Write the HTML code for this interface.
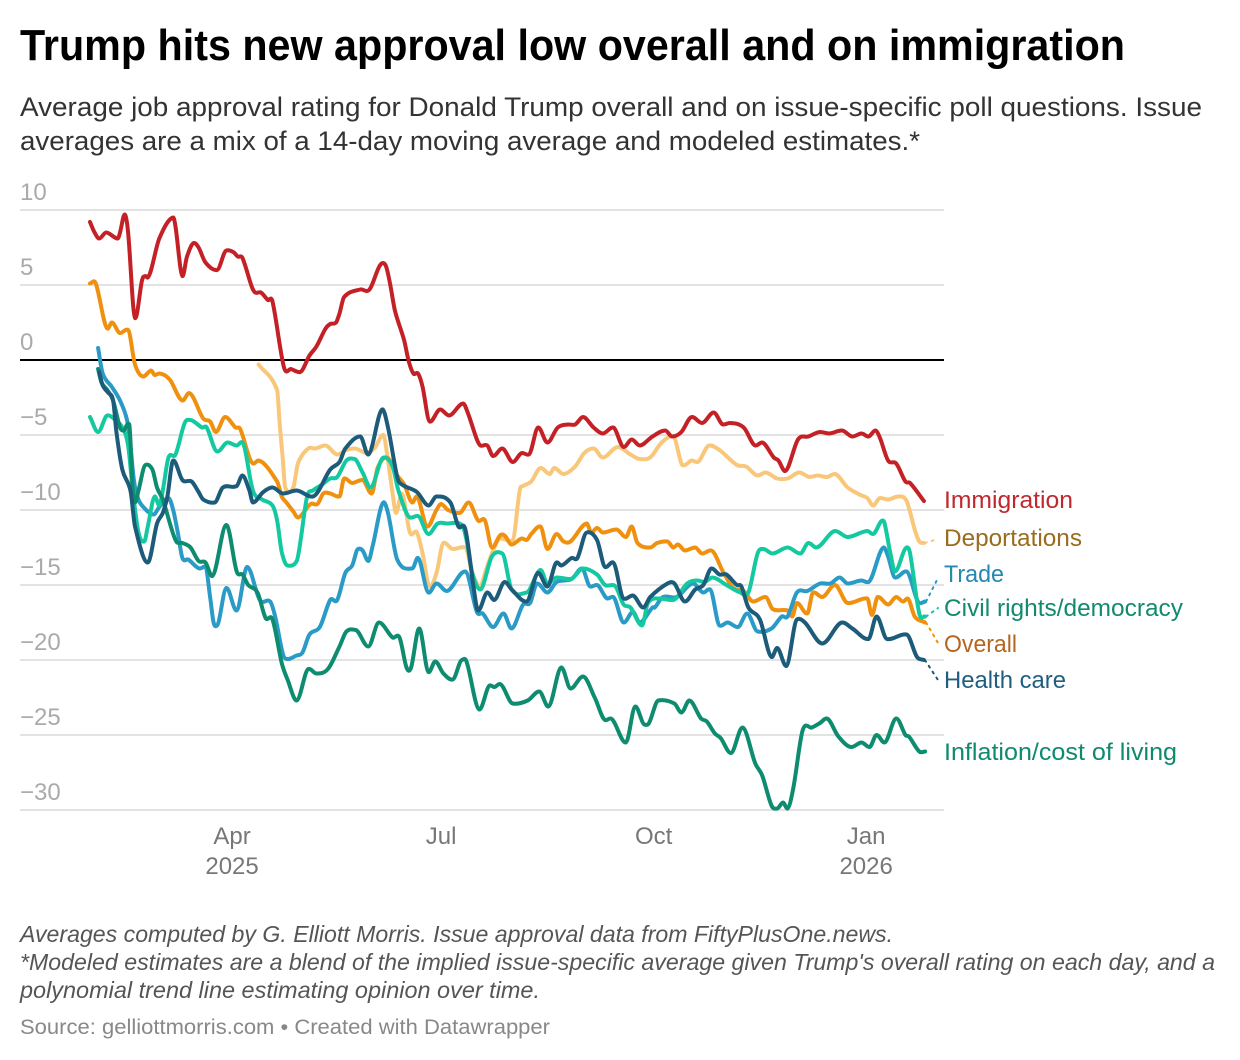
<!DOCTYPE html>
<html lang="en">
<head>
<meta charset="utf-8">
<title>Trump hits new approval low overall and on immigration</title>
<style>
html,body{margin:0;padding:0;background:#fff;}
svg{display:block;font-family:"Liberation Sans",sans-serif;}
</style>
</head>
<body>
<svg id="chart" width="1240" height="1060" viewBox="0 0 1240 1060" xmlns="http://www.w3.org/2000/svg">
  <rect x="0" y="0" width="1240" height="1060" fill="#fff"/>
  <text x="20" y="60" font-size="44" font-weight="700" fill="#000" textLength="1105" lengthAdjust="spacingAndGlyphs">Trump hits new approval low overall and on immigration</text>
  <text x="20" y="116" font-size="26.5" fill="#333" textLength="1182" lengthAdjust="spacingAndGlyphs">Average job approval rating for Donald Trump overall and on issue-specific poll questions. Issue</text>
  <text x="20" y="150" font-size="26.5" fill="#333" textLength="900" lengthAdjust="spacingAndGlyphs">averages are a mix of a 14-day moving average and modeled estimates.*</text>
  <g id="grid"></g>
  <g id="yAxis"></g>
  <g id="xAxis"></g>
  <g id="connectors"></g>
  <g id="lines"></g>
  <g id="labels">
    <text id="lab-immigration" x="944" y="508" font-size="24" fill="#c0282d" textLength="129" lengthAdjust="spacingAndGlyphs">Immigration</text>
    <text id="lab-deportations" x="944" y="546" font-size="24" fill="#9a6c1e" textLength="138" lengthAdjust="spacingAndGlyphs">Deportations</text>
    <text id="lab-trade" x="944" y="582" font-size="24" fill="#2488b0" textLength="60" lengthAdjust="spacingAndGlyphs">Trade</text>
    <text id="lab-civil" x="944" y="616" font-size="24" fill="#118a6d" textLength="239" lengthAdjust="spacingAndGlyphs">Civil rights/democracy</text>
    <text id="lab-overall" x="944" y="652" font-size="24" fill="#b5651d" textLength="73" lengthAdjust="spacingAndGlyphs">Overall</text>
    <text id="lab-health" x="944" y="688" font-size="24" fill="#1f5e80" textLength="122" lengthAdjust="spacingAndGlyphs">Health care</text>
    <text id="lab-inflation" x="944" y="760" font-size="24" fill="#0e8a6e" textLength="233" lengthAdjust="spacingAndGlyphs">Inflation/cost of living</text>
  </g>
  <text x="20" y="942" font-size="23" font-style="italic" fill="#555" textLength="873" lengthAdjust="spacingAndGlyphs">Averages computed by G. Elliott Morris. Issue approval data from FiftyPlusOne.news.</text>
  <text x="20" y="970" font-size="23" font-style="italic" fill="#555" textLength="1195" lengthAdjust="spacingAndGlyphs">*Modeled estimates are a blend of the implied issue-specific average given Trump's overall rating on each day, and a</text>
  <text x="20" y="998" font-size="23" font-style="italic" fill="#555" textLength="520" lengthAdjust="spacingAndGlyphs">polynomial trend line estimating opinion over time.</text>
  <text x="20" y="1034" font-size="21" fill="#888" textLength="530" lengthAdjust="spacingAndGlyphs">Source: gelliottmorris.com • Created with Datawrapper</text>
</svg>
<script>
const yTicks = [10, 5, 0, -5, -10, -15, -20, -25, -30];
const xTickLabels = ["Apr", "Jul", "Oct", "Jan"];
const xTickYears = ["2025", "", "", "2026"];
const xTickDays = [61.5, 152, 244, 336];

const immigrationDays = [0,2,4,7,12,13,15,16.5,19.5,22.5,24,25,30,36,37,40,42,45,47,50,55,59,62,64,66,70,71.5,74,77,79,84,87,91,95,98,102,104,106.5,108,110,117,121,125.5,128,130,132,136,138,140,142,144,147,151.5,155.5,161.5,163.5,167.5,169,172,174.5,178.5,183,187,190,194,198,202.5,207,210,213.5,218,222,226.5,231,234.5,238,243.5,249,252,256,260.5,265,270,274,277,283,288,291,296,298,301,306.5,311,316,320,325.5,330,334,337,340,342,345.5,349,353,355,361];
const immigrationValues = [9.2,8.5,8.1,8.5,8.1,8.5,9.7,8.5,2.8,5.3,5.6,5.5,8.1,9.5,8.9,5.6,6.9,7.8,7.5,6.5,6,7.3,7.2,6.9,6.8,4.9,4.5,4.5,4,3.9,-0.5,-0.6,-0.8,0.3,0.9,2.1,2.4,2.5,3.1,4.2,4.7,4.7,6.3,6.3,5,3.3,1.3,-0.1,-0.9,-0.9,-1.8,-4.1,-3.3,-3.7,-2.9,-3.5,-5.3,-5.7,-5.7,-6.4,-5.9,-6.8,-6.2,-6.3,-4.5,-5.5,-4.5,-4.3,-4.3,-3.8,-4.5,-4.9,-4.5,-5.8,-5.3,-5.7,-5.1,-4.7,-5.1,-4.8,-3.8,-4.2,-3.5,-4.3,-4.2,-4.5,-5.7,-5.5,-6.5,-6.7,-7.4,-5.3,-5.1,-4.8,-4.9,-4.7,-5.1,-4.9,-5.1,-4.7,-5.2,-6.7,-6.9,-8.1,-8.2,-9.4];

const overallDays = [0,2.5,7.5,9.5,13,16.5,19.5,23,26.5,28,30,34.5,40,43,49,52,54.5,58.5,63,65,70.5,73,81,83,85,88,90,95.5,98.5,101,104,108,110,113.5,118,122,124.5,128.5,133,136,139.5,141.5,146,150,152,155,160,164,168,171,174,177.5,179.5,182.5,187,189,191,195,198,202,205,208,215,217,219.5,222,228,232,234.5,237,242.5,245.5,250,252.5,254.5,257.5,262,265,269,274,278.5,283,287,292.5,295.5,302,304,306,310.5,313,317,322.5,328,336.5,338.5,341,345.5,349,352,354,357,361.5];
const overallValues = [5.1,5.1,2.1,2.5,1.8,2,-0.3,-1.1,-0.7,-1,-0.9,-1.3,-2.7,-2.2,-3.9,-4.1,-4.8,-3.8,-4.5,-4.6,-6.9,-6.7,-8.1,-9.1,-9.5,-10.1,-10.5,-9.6,-9.6,-8.9,-8.9,-9.1,-7.9,-8.2,-8,-8.9,-7.2,-6.5,-7.7,-8.3,-9.5,-9.1,-11.1,-10,-9.6,-10,-10.2,-9.5,-10.7,-10.7,-12.5,-11.7,-11.7,-12.3,-11.9,-12,-11.6,-11.1,-12.6,-11.6,-12.1,-12.1,-10.9,-11.5,-11.2,-11.5,-11.3,-11.8,-11.1,-12.2,-12.5,-12.2,-12.1,-12.5,-12.3,-12.7,-12.5,-12.9,-12.7,-14.1,-15.2,-15.4,-16.1,-15.8,-16.6,-16.7,-17.1,-16.2,-16.9,-15.5,-15.8,-15,-16.2,-15.9,-17,-15.8,-16.3,-15.8,-16.1,-15.9,-17.1,-17.5];

const deportationsDays = [73,81,82,83.5,84.5,88,90,94.5,97.5,102,107,111,114.5,120,123.5,127,129,131,132.5,135,138.5,141.5,144,147,150,153,157,162.5,165.5,169,171,174.5,177.5,183,186,187.5,191,195,199,201,205,210,214,218,222,228.5,234,238,242.5,247.5,252.5,256,257.5,260.5,263,268,272.5,280,284,289,292.5,297.5,302,307,311.5,315,319,322.5,328,333.5,336.5,339,342,345.5,350,353.5,357,359,361];
const deportationsValues = [-0.3,-2,-4,-6.7,-8.5,-8.5,-6.9,-5.9,-5.9,-5.7,-6.3,-6,-5.9,-6.2,-5.8,-5,-6.7,-8.9,-10.2,-8.9,-11.5,-11.5,-12.9,-15.1,-14.2,-12.2,-12.6,-12.5,-14.2,-15.1,-14.2,-12.7,-11.9,-12,-8.7,-8.4,-8.1,-7.2,-7.6,-7.2,-7.6,-7.1,-6.2,-5.9,-6.5,-5.8,-6.3,-6.6,-6.5,-5.5,-5.1,-6.9,-7,-6.7,-6.8,-5.7,-6,-7,-7.1,-7.7,-7.5,-7.9,-7.9,-7.5,-7.8,-7.7,-7.8,-7.6,-8.5,-9,-9.2,-9.7,-9.2,-9.3,-9.1,-9.4,-11.3,-12.1,-12.2];

const tradeDays = [3.5,5.5,9.5,13,16,17.5,19,20.5,22.5,27.5,30,34,36,38,40,42.5,47.5,50,52,53.5,55,59,63.5,68,73.5,78,80,84.5,89.5,92,95,99.5,104,107,110.5,113.5,116,118,120.5,122.5,127,129,133,139.5,142,146.5,150,154.5,162.5,167.5,170,174.5,179,182.5,187.5,190.5,193.5,198,202,208.5,213,216.5,219.5,224,226.5,231,235,238,243.5,244.5,248,254,261,265.5,268.5,272.5,276,280.5,284.5,289,295,299.5,302,306,310.5,316,320.5,324.5,328,334,337,343.5,345.5,348.5,353.5,359,361.5];
const tradeValues = [0.8,-0.9,-1.8,-2.7,-4,-5.7,-8,-9.1,-9.7,-10.3,-9.8,-9.2,-10,-11.5,-13.2,-13.3,-13.9,-13.8,-15.8,-17.5,-17.7,-15.2,-16.7,-13.8,-16,-16.1,-17,-19.9,-19.7,-19.5,-18.3,-17.8,-16,-16,-14.2,-13.7,-12.6,-12.7,-13.4,-12.3,-9.5,-10.2,-13.3,-13.9,-13.2,-15.5,-14.9,-15.4,-14.1,-16.8,-16.9,-17.8,-16.9,-17.9,-16.3,-16.2,-14.9,-15.5,-14.8,-14.6,-13.9,-15.1,-15,-15.9,-15.8,-17.5,-16.8,-17.5,-16.5,-16.5,-15.8,-15.8,-14.9,-15.5,-15.3,-17.7,-17.5,-17.8,-16.9,-18.1,-17.9,-17.1,-17.1,-15.5,-15.4,-14.9,-14.9,-14.5,-14.9,-14.7,-14.8,-12.5,-13.1,-14.5,-14.1,-16.2,-16.1];

const civilDays = [0,3.5,7.5,11,14,16.5,18.5,21,23.5,25,28,30,31.5,34,37,41,43.5,48.5,50.5,55,59.5,63.5,66,70.5,74.5,79,81,83,85.5,89.5,91,94,96.5,100.5,104,107,111,114.5,118,121.5,127,131,133.5,138.5,142,146.5,150.5,154.5,161,163,165.5,169,174,178.5,182.5,189,195,198,202,208,213.5,219.5,223,227.5,231,234,239,241.5,246.5,252.5,258.5,263,266,269.5,275.5,281.5,285,289,291.5,295.5,302,307.5,311,314.5,322.5,328,336.5,339,343,344,346.5,348.5,353.5,355,359,361.5];
const civilValues = [-3.8,-4.8,-3.7,-4,-4.5,-5.7,-8.7,-11.5,-12.1,-11.1,-9.1,-9.7,-8.7,-6.5,-6.3,-4.2,-4,-4.5,-4.5,-6.1,-5.5,-5.7,-5.5,-8.7,-9.3,-9.7,-10.7,-12.8,-13.7,-13.4,-12.2,-9.1,-8.7,-8.3,-7.9,-7.8,-6.7,-6.6,-7.5,-8.5,-6.5,-7.1,-8.7,-10.5,-10.4,-11.6,-10.9,-10.9,-11,-12,-14.2,-15.3,-13.1,-12.9,-15.3,-15.5,-14,-14.9,-14.5,-14.6,-13.9,-14.3,-15,-15.1,-16.3,-16.5,-17.7,-16.2,-15.9,-16,-14.9,-14.7,-14.8,-14.5,-15,-15.5,-15.5,-12.9,-12.6,-12.9,-12.5,-12.9,-12.2,-12.5,-11.4,-11.8,-11.4,-11.6,-10.7,-10.9,-12.9,-14.1,-12.5,-12.9,-16.9,-17.1];

const healthDays = [4,5.5,8,10,11.5,14,17.5,19.5,25,29,31.5,33.5,36,40,44,47,49,54,57.5,63.5,66,69,70.5,75,79,83.5,89.5,96.5,104,108,110.5,117,120.5,126.5,129,133,135,141.5,146.5,150,156,159.5,162.5,166,168,172,175,179.5,182.5,189,194,198,202,204,208.5,211,215,219.5,223,226.5,231,235,239.5,242.5,250,253,257.5,262,265.5,269,272.5,275.5,280,282,285,290,295,297.5,301.5,306,309.5,317,325.5,330,337,340.5,345,353.5,358,361];
const healthValues = [-0.8,-1.7,-2.2,-2.7,-4.9,-7.3,-8.7,-11.1,-13.5,-10.9,-10.2,-9.1,-6.7,-8,-8.1,-8.8,-9.3,-9.5,-8.5,-8.4,-7.7,-8.7,-9.5,-8.8,-8.5,-8.9,-8.7,-9.1,-7.3,-6.8,-5.9,-5.1,-6.3,-3.3,-4.5,-7.8,-8.3,-8.8,-9.7,-9.1,-9.5,-11.1,-11.3,-15.1,-16.7,-15.5,-16,-14.8,-15.3,-16.1,-14.2,-15.1,-13.5,-13.7,-13.2,-13.2,-11.5,-12,-13.8,-13.5,-15.9,-15.7,-16.5,-15.8,-14.9,-14.9,-16.1,-15.3,-15,-13.9,-14.3,-14.3,-15,-15.1,-16.5,-17.3,-19.8,-19.2,-20.4,-17.3,-17.5,-18.9,-17.5,-17.9,-18.6,-17.1,-18.6,-18.3,-19.8,-20];

const inflationDays = [3.5,5,7.5,10,13,14.5,17,18.5,19.5,21,24,27,29,31.5,37,40,43.5,47,50,53,59,63.5,66,68.5,72.5,76,79,83,85.5,89.5,94.5,98,103,108,111,115,120.5,125,131,134,137,139,142.5,146.5,149.5,153,157,161,163,168.5,173,175,177.5,183,189.5,194.5,198.5,204,208,213.5,218.5,223,225.5,232,236,240,242,246,253,256,259.5,264.5,267,270.5,273,277.5,282.5,288,291,295,297.5,300,302,304.5,308.5,312.5,316,319,324,329.5,334,337.5,340.5,344,349,353,354.5,359,361.5];
const inflationValues = [-0.6,-1.5,-2,-2.7,-4.5,-4.7,-4.3,-8.7,-9.5,-8.7,-7,-7.3,-8.5,-9.3,-12,-12.2,-12.5,-13.4,-13.5,-14.4,-11,-14.1,-14.3,-15,-15.5,-17.2,-17.3,-20.2,-21.3,-22.7,-20.6,-20.9,-20.6,-19.1,-18.1,-18,-19.1,-17.5,-18.5,-18.5,-20.5,-20.5,-17.9,-20.8,-20.1,-20.9,-21.3,-20,-20.1,-23.3,-21.7,-21.8,-21.6,-22.9,-22.7,-22.1,-23.1,-20.5,-21.9,-21.1,-22.5,-24,-23.9,-25.5,-23.1,-24.3,-24.2,-22.7,-22.9,-23.5,-22.7,-23.9,-24.1,-24.9,-25.2,-26.2,-24.5,-26.9,-27.7,-29.7,-29.9,-29.5,-29.9,-28.5,-24.7,-24.5,-24.2,-23.9,-25.1,-25.8,-25.5,-25.8,-25,-25.5,-23.9,-25,-25.1,-26.1,-26.1];

const NS = "http://www.w3.org/2000/svg";
function xScale(day) { return 90 + 2.31 * day; }
function yScale(v) { return 360 - 15 * v; }

function make(parent, tag, attrs) {
  const el = document.createElementNS(NS, tag);
  for (const k in attrs) el.setAttribute(k, attrs[k]);
  parent.appendChild(el);
  return el;
}

function smoothPath(days, values) {
  const n = Math.min(days.length, values.length);
  const xs = [], ys = [];
  for (let i = 0; i < n; i++) { xs.push(xScale(days[i])); ys.push(yScale(values[i])); }
  const slopes = [];
  for (let i = 0; i < n - 1; i++) slopes.push((ys[i + 1] - ys[i]) / (xs[i + 1] - xs[i]));
  const tan = [slopes[0]];
  for (let i = 1; i < n - 1; i++) {
    const a = slopes[i - 1], b = slopes[i];
    const central = (ys[i + 1] - ys[i - 1]) / (xs[i + 1] - xs[i - 1]);
    tan.push(a * b < 0 ? central * 0.3 : central);
  }
  tan.push(slopes[n - 2]);
  let d = "M" + xs[0].toFixed(1) + " " + ys[0].toFixed(1);
  for (let i = 0; i < n - 1; i++) {
    const h = (xs[i + 1] - xs[i]) / 3;
    d += "C" + (xs[i] + h).toFixed(1) + " " + (ys[i] + tan[i] * h).toFixed(1) + " " +
      (xs[i + 1] - h).toFixed(1) + " " + (ys[i + 1] - tan[i + 1] * h).toFixed(1) + " " +
      xs[i + 1].toFixed(1) + " " + ys[i + 1].toFixed(1);
  }
  return d;
}

const gridGroup = document.getElementById("grid");
const yAxisGroup = document.getElementById("yAxis");
const xAxisGroup = document.getElementById("xAxis");
const lineGroup = document.getElementById("lines");
const connectorGroup = document.getElementById("connectors");

yTicks.forEach(function (t) {
  if (t !== 0) {
    const g = make(gridGroup, "line", { x1: 20, x2: 944, y1: yScale(t), y2: yScale(t), stroke: "#e3e3e3", "stroke-width": 2 });
    
    
  }
  const label = make(yAxisGroup, "text", { x: 20, y: yScale(t) - 10, "font-size": 24, fill: "#aaa" });
  
  
  label.textContent = t < 0 ? "\u2212" + Math.abs(t) : String(t);
});

xTickLabels.forEach(function (name, i) {
  const label = make(xAxisGroup, "text", { x: xScale(xTickDays[i]), y: 844, "font-size": 24, fill: "#777", "text-anchor": "middle" });
  
  
  label.textContent = name;
  if (xTickYears[i]) {
    const year = make(xAxisGroup, "text", { x: xScale(xTickDays[i]), y: 874, "font-size": 24, fill: "#777", "text-anchor": "middle" });
    
    
    year.textContent = xTickYears[i];
  }
});

function drawSeries(name, days, values, color) {
  const path = make(lineGroup, "path", {
    d: smoothPath(days, values), fill: "none", stroke: color, "stroke-width": 4,
    "stroke-linejoin": "round", "stroke-linecap": "round"
  });
  
  
}

function drawConnector(name, days, values, color, labelId, dy) {
  const labelY = Number(document.getElementById(labelId).getAttribute("y"));
  const n = days.length - 1;
  const link = make(connectorGroup, "line", {
    x1: xScale(days[n]) + 1, y1: yScale(values[n]), x2: 938, y2: labelY - dy,
    stroke: color, "stroke-width": 2, "stroke-dasharray": "2 5", "stroke-linecap": "round"
  });
  
  
}

const colDeportations = "#f9c77a", colOverall = "#f0900f", colTrade = "#2a9ac6",
      colCivil = "#14c9a0", colInflation = "#0e8c70", colHealth = "#1c5b7a", colImmigration = "#c42127";

drawConnector("deportations", deportationsDays, deportationsValues, colDeportations, "lab-deportations", 7);
drawConnector("trade", tradeDays, tradeValues, colTrade, "lab-trade", 4);
drawConnector("civil", civilDays, civilValues, colCivil, "lab-civil", 8);
drawConnector("overall", overallDays, overallValues, colOverall, "lab-overall", 9);
drawConnector("health", healthDays, healthValues, colHealth, "lab-health", 8);

drawSeries("deportations", deportationsDays, deportationsValues, colDeportations);
drawSeries("overall", overallDays, overallValues, colOverall);
drawSeries("trade", tradeDays, tradeValues, colTrade);
drawSeries("civil-rights", civilDays, civilValues, colCivil);
drawSeries("inflation", inflationDays, inflationValues, colInflation);
drawSeries("health-care", healthDays, healthValues, colHealth);
drawSeries("immigration", immigrationDays, immigrationValues, colImmigration);

const zero = make(gridGroup, "line", { x1: 20, x2: 944, y1: yScale(0), y2: yScale(0), stroke: "#000", "stroke-width": 2 });


</script>
</body>
</html>
